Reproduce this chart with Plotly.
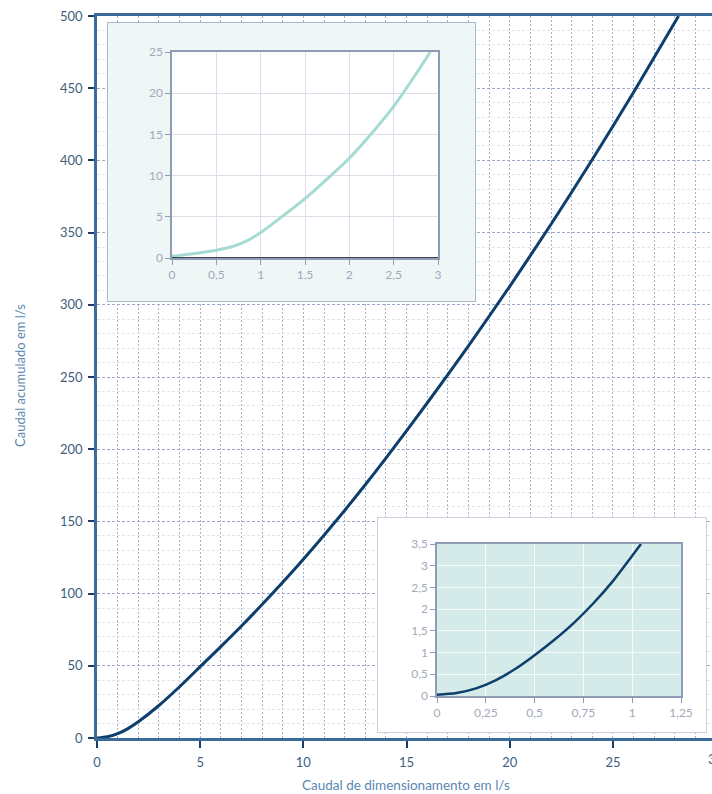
import plotly.graph_objects as go

# ---------------- data ----------------
main_x = [0, 0.5, 1, 1.5, 2, 3, 4, 5, 6, 7, 8, 9, 10, 11, 12, 13, 14, 16, 18, 20, 22, 24, 26, 28, 28.18]
main_y = [0, 0.9, 3.0, 6.5, 11.2, 22.5, 35.5, 49.4, 63.3, 77.6, 92.4, 107.8, 123.8, 140.4, 157.6, 175.4,
          193.8, 232, 271.6, 312.8, 355.8, 400.6, 447.2, 495.6, 500]

inset1_x = [0, 0.1, 0.25, 0.5, 0.7, 0.85, 1.0, 1.25, 1.5, 1.75, 2.0, 2.25, 2.5, 2.75, 2.913]
inset1_y = [0.2, 0.35, 0.55, 0.95, 1.45, 2.1, 3.1, 5.1, 7.2, 9.6, 12.1, 15.1, 18.4, 22.3, 25.0]

inset2_x = [0, 0.1, 0.2, 0.3, 0.4, 0.5, 0.6, 0.7, 0.8, 0.9, 1.0, 1.045]
inset2_y = [0.03, 0.07, 0.175, 0.36, 0.62, 0.94, 1.29, 1.68, 2.13, 2.64, 3.23, 3.5]

x_title = "Caudal de dimensionamento em l/s"
y_title = "Caudal acumulado em l/s"

# ---------------- layout geometry ----------------
W, H = 712, 794
L, T, B, R = 97, 16, 56, 0
PW = W - L - R
PH = H - T - B


def fx(p):
    return (p - L) / PW


def fy(p):
    return (H - B - p) / PH


FONT = "Lato"
TICK_MAIN = "#40607f"
TITLE_COL = "#5a87b3"
INSET_TICK = "#a2a9ba"
INSET_AX = "#8f9cb6"

fig = go.Figure()

fig.add_trace(go.Scatter(x=main_x, y=main_y, mode="lines",
                         line=dict(color="#0e3e6c", width=3, shape="spline", smoothing=0.8),
                         xaxis="x", yaxis="y", showlegend=False, hoverinfo="skip"))
fig.add_trace(go.Scatter(x=inset1_x, y=inset1_y, mode="lines",
                         line=dict(color="#a5dbd2", width=3, shape="spline", smoothing=0.8),
                         xaxis="x3", yaxis="y3", showlegend=False, hoverinfo="skip"))
fig.add_trace(go.Scatter(x=inset2_x, y=inset2_y, mode="lines",
                         line=dict(color="#0e3e6c", width=2.5, shape="spline", smoothing=0.8),
                         xaxis="x5", yaxis="y5", showlegend=False, hoverinfo="skip"))

hidden = dict(range=[0, 1], showgrid=False, zeroline=False, showticklabels=False, ticks="", showline=False,
              fixedrange=True, automargin=False)

inset_common = dict(ticks="outside", ticklen=5, tickcolor=INSET_AX, showline=True, linecolor=INSET_AX,
                    linewidth=1.5, mirror=True, showgrid=True, zeroline=False, fixedrange=True,
                    automargin=False, tickfont=dict(family=FONT, size=12, color=INSET_TICK))

fig.update_layout(
    template="none",
    width=W, height=H,
    margin=dict(l=L, r=R, t=T, b=B, pad=0),
    paper_bgcolor="white", plot_bgcolor="white",
    separators=", ",
    font=dict(family=FONT, size=12, color=TICK_MAIN),
    showlegend=False,
    xaxis=dict(
        domain=[0, 1], range=[0, 29.8], anchor="y", automargin=False,
        tick0=0, dtick=5, ticks="outside", ticklen=7, tickwidth=2, tickcolor="#1d3d63",
        ticklabelstandoff=4,
        showline=True, linecolor="#3b6a9b", linewidth=2.5, mirror=True,
        showgrid=True, gridcolor="#a6b2c9", gridwidth=1, griddash="2px,2px",
        zeroline=False,
        tickfont=dict(family=FONT, size=13, color=TICK_MAIN),
        minor=dict(dtick=1, showgrid=True, gridcolor="#a6b2c9", gridwidth=1, griddash="2px,2px", ticks=""),
    ),
    yaxis=dict(
        domain=[0, 1], range=[0, 500], anchor="x", automargin=False,
        tick0=0, dtick=50, ticks="outside", ticklen=6, tickwidth=2, tickcolor="#1d3d63",
        ticklabelstandoff=3,
        showline=True, linecolor="#3b6a9b", linewidth=2.5, mirror=False,
        showgrid=True, gridcolor="#9dabc5", gridwidth=1, griddash="3px,2px",
        zeroline=False,
        tickfont=dict(family=FONT, size=13, color=TICK_MAIN),
        minor=dict(dtick=10, showgrid=True, gridcolor="#dfe5ee", gridwidth=1, ticks=""),
    ),
    # inset 1 frame
    xaxis2=dict(domain=[fx(107), fx(476)], anchor="y2", **hidden),
    yaxis2=dict(domain=[fy(302), fy(22)], anchor="x2", **hidden),
    # inset 1 plot
    xaxis3=dict(domain=[fx(172), fx(438)], anchor="y3", range=[0, 3], tick0=0, dtick=0.5,
                gridcolor="#dcdde9", **inset_common),
    yaxis3=dict(domain=[fy(258), fy(52)], anchor="x3", range=[0, 25], tick0=0, dtick=5,
                gridcolor="#dcdde9", **inset_common),
    # inset 2 frame
    xaxis4=dict(domain=[fx(377), fx(707)], anchor="y4", **hidden),
    yaxis4=dict(domain=[fy(733), fy(517)], anchor="x4", **hidden),
    # inset 2 plot
    xaxis5=dict(domain=[fx(437), fx(681)], anchor="y5", range=[0, 1.25], tick0=0, dtick=0.25,
                gridcolor="rgba(255,255,255,0.75)", **inset_common),
    yaxis5=dict(domain=[fy(696), fy(544)], anchor="x5", range=[0, 3.5], tick0=0, dtick=0.5,
                gridcolor="rgba(255,255,255,0.75)", **inset_common),
)

# frames of the insets (drawn inside their own subplot layers so they cover the main grid)
fig.add_shape(type="rect", xref="x2", yref="y2", x0=0, x1=1, y0=0, y1=1, layer="below",
              fillcolor="#eef6f6", line=dict(color="#a9b7cb", width=2))
fig.add_shape(type="rect", xref="x4", yref="y4", x0=0, x1=1, y0=0, y1=1, layer="below",
              fillcolor="#ffffff", line=dict(color="#c9d1de", width=2))
fig.add_shape(type="rect", xref="x5", yref="y5", x0=0, x1=1.25, y0=0, y1=3.5, layer="below",
              fillcolor="#d5ebe9", line=dict(width=0))
fig.add_shape(type="line", xref="x3", yref="y3", x0=0, x1=3, y0=0, y1=0, layer="above",
              line=dict(color="#3e4452", width=2))

# axis titles and the clipped last tick label
fig.add_annotation(xref="paper", yref="paper", x=fx(20), y=fy(376), xanchor="center", yanchor="middle",
                   text=y_title, textangle=-90,
                   showarrow=False, font=dict(family=FONT, size=13, color=TITLE_COL))
fig.add_annotation(xref="paper", yref="paper", x=fx(406), y=fy(785), xanchor="center", yanchor="middle",
                   text=x_title, showarrow=False, font=dict(family=FONT, size=13.5, color=TITLE_COL))
fig.add_annotation(xref="paper", yref="paper", x=30 / 29.8, y=0, xanchor="center", yanchor="top",
                   yshift=-11, text="30",
                   showarrow=False, font=dict(family=FONT, size=13, color=TICK_MAIN))

fig.write_html("out.html",
               config={"displayModeBar": False},
               post_script="document.body.style.margin='0px';document.body.style.overflow='hidden';")
